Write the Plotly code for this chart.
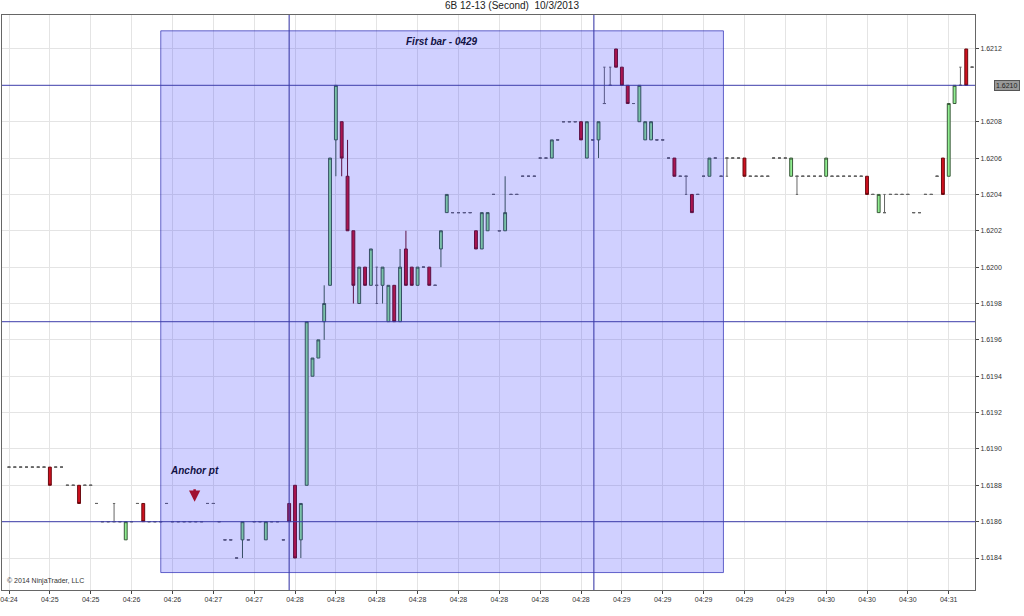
import plotly.graph_objects as go

BASE = 1.6180
PIP = 0.0001
# bars: (slot, open, high, low, close) in pips above 1.6180
rows = [
 (0,9,9,9,9),(1,9,9,9,9),(2,9,9,9,9),(3,9,9,9,9),(4,9,9,9,9),(5,9,9,9,9),(6,9,9,9,9),
 (7,9,9,8,8),(8,9,9,9,9),(9,9,9,9,9),
 (10,8,8,8,8),(11,8,8,8,8),(12,8,8,7,7),(13,8,8,8,8),(14,8,8,8,8),
 (15,7,7,7,7),(16,6,6,6,6),(17,6,6,6,6),(18,6,7,6,6),(19,6,6,6,6),(20,5,6,5,6),(21,6,6,6,6),
 (22,7,7,7,7),(23,7,7,6,6),(24,6,6,6,6),(25,6,6,6,6),(26,6,6,6,6),(27,7,7,7,7),
 (28,6,6,6,6),(29,6,6,6,6),(30,6,6,6,6),(31,6,6,6,6),(32,6,6,6,6),(33,6,6,6,6),
 (34,7,7,7,7),(35,7,7,7,7),(36,6,6,6,6),(37,5,5,5,5),(38,5,5,5,5),(39,4,4,4,4),
 (40,5,6,4,6),(41,5,5,5,5),(42,6,6,6,6),(43,6,6,6,6),(44,5,6,5,6),(45,6,6,6,6),(46,6,6,6,6),
 (47,5,5,5,5),(48,7,7,6,6),(49,8,8,4,4),(50,5,7,4,7),(51,8,17,8,17),(52,14,15,14,15),
 (53,15,16,15,16),(54,17,19,16,18),(55,19,26,19,26),(56,27,30,25,30),(57,28,28,25,26),
 (58,25,27,22,22),(59,22,22,18,19),(60,18,20,18,20),(61,20,20,19,19),(62,19,21,19,21),
 (63,19,20,18,19),(64,19,20,18,20),(65,17,19,17,19),(66,19,19,17,17),(67,17,21,17,20),
 (68,21,22,19,19),(69,20,20,19,19),(70,19,20,19,20),(71,20,20,20,20),(72,20,20,19,19),
 (73,19,19,19,19),(74,21,22,20,22),(75,23,24,23,24),(76,23,23,23,23),(77,23,23,23,23),
 (78,23,23,23,23),(79,23,23,23,23),(80,22,22,21,21),(81,21,23,21,23),(82,22,23,22,23),
 (83,24,24,24,24),(84,22,22,22,22),(85,22,25,22,23),(86,24,24,24,24),(87,24,24,24,24),
 (88,25,25,25,25),(89,25,25,25,25),(90,25,25,25,25),(91,26,26,26,26),(92,26,26,26,26),
 (93,26,27,26,27),(94,27,27,27,27),(95,28,28,28,28),(96,28,28,28,28),(97,28,28,28,28),
 (98,28,28,27,27),(99,26,28,26,28),(100,27,27,27,27),(101,27,28,26,28),(102,29,31,29,29),
 (103,30,31,30,30),(104,32,32,31,31),(105,31,31,30,30),(106,30,30,29,29),(107,29,29,29,29),
 (108,28,30,28,30),(109,27,28,27,28),(110,27,28,27,28),(111,27,27,27,27),(112,27,27,27,27),
 (113,26,26,26,26),(114,26,26,25,25),(115,25,25,25,25),(116,25,25,24,25),(117,24,24,23,23),
 (118,24,24,24,24),(119,25,25,25,25),(120,25,26,25,26),(121,26,26,26,26),(122,25,25,25,25),
 (123,26,26,25,26),(124,26,26,26,26),(125,26,26,26,26),(126,26,26,25,25),(127,25,25,25,25),
 (128,25,25,25,25),(129,25,25,25,25),(130,25,25,25,25),(131,26,26,26,26),(132,26,26,26,26),
 (133,26,26,26,26),(134,25,26,25,26),(135,25,25,24,25),(136,25,25,25,25),(137,25,25,25,25),
 (138,25,25,25,25),(139,25,25,25,25),(140,25,26,25,26),(141,25,25,25,25),(142,25,25,25,25),
 (143,25,25,25,25),(144,25,25,25,25),(145,25,25,25,25),(146,25,25,25,25),(147,25,25,24,24),
 (148,24,24,24,24),(149,23,24,23,24),(150,23,24,23,23),(151,24,24,24,24),(152,24,24,24,24),
 (153,24,24,24,24),(154,24,24,24,24),(155,23,23,23,23),(156,23,23,23,23),(157,24,24,24,24),
 (158,24,24,24,24),(159,25,25,25,25),(160,26,26,24,24),(161,25,29,25,29),(162,29,30,29,30),
 (163,30,31,30,30),(164,32,32,30,30),(165,31,31,31,31),
]
tick_slots = list(range(0, 166, 7))
tick_labels = ["04:24","04:25","04:25","04:26","04:26","04:27","04:27","04:28","04:28","04:28",
               "04:28","04:28","04:28","04:28","04:28","04:29","04:29","04:29","04:29","04:29",
               "04:30","04:30","04:30","04:31"]
price_ticks = [1.6184, 1.6186, 1.6188, 1.6190, 1.6192, 1.6194, 1.6196, 1.6198, 1.6200,
               1.6202, 1.6204, 1.6206, 1.6208, 1.6212]
last_price = 1.6210
hlines = [1.6210, 1.6197, 1.6186]
vlines = [48, 100.2]
box = dict(x0=26, x1=122.4, y0=1.61832, y1=1.6213)

def px(v): return round(BASE + v*PIP, 4)

def sel(kind):
    out = [r for r in rows if (kind == "up" and r[4] > r[1]) or (kind == "dn" and r[4] < r[1]) or (kind == "doji" and r[4] == r[1])]
    return dict(x=[r[0] for r in out], open=[px(r[1]) for r in out], high=[px(r[2]) for r in out],
                low=[px(r[3]) for r in out], close=[px(r[4]) for r in out])

fig = go.Figure()
fig.add_trace(go.Candlestick(**sel("up"), increasing=dict(fillcolor="#90EE90", line=dict(color="#3a5a3a", width=1)),
                             decreasing=dict(fillcolor="#90EE90", line=dict(color="#3a5a3a", width=1)), whiskerwidth=0))
fig.add_trace(go.Candlestick(**sel("dn"), increasing=dict(fillcolor="#d0101e", line=dict(color="#6a0a10", width=1)),
                             decreasing=dict(fillcolor="#d0101e", line=dict(color="#6a0a10", width=1)), whiskerwidth=0))
fig.add_trace(go.Candlestick(**sel("doji"), increasing=dict(fillcolor="#666", line=dict(color="#666", width=1)),
                             decreasing=dict(fillcolor="#666", line=dict(color="#666", width=1)), whiskerwidth=0.8))

fig.add_shape(type="rect", x0=box["x0"], x1=box["x1"], y0=box["y0"], y1=box["y1"], layer="above",
              fillcolor="rgba(40,40,255,0.22)", line=dict(color="rgba(40,40,180,0.7)", width=1))
for h in hlines:
    fig.add_hline(y=h, line=dict(color="rgba(60,60,170,0.8)", width=1.2), layer="above")
for v in vlines:
    fig.add_vline(x=v, line=dict(color="rgba(60,60,170,0.9)", width=1.2), layer="above")

fig.add_annotation(x=(box["x0"]+box["x1"])/2, y=1.62128, text="<b><i>First bar - 0429</i></b>", showarrow=False,
                   font=dict(size=10, color="#111144", family="Liberation Sans"), yanchor="top")
fig.add_annotation(x=31.8, y=1.61888, text="<b><i>Anchor pt</i></b>", showarrow=False,
                   font=dict(size=10, color="#111144", family="Liberation Sans"))
fig.add_annotation(x=31.8, y=1.61871, ax=0, ay=-14, text="", showarrow=True, arrowhead=2, arrowsize=0.9,
                   arrowwidth=2.5, arrowcolor="#a01030")
fig.add_annotation(xref="paper", yref="paper", x=0.003, y=0.005, text="© 2014 NinjaTrader, LLC", showarrow=False,
                   xanchor="left", yanchor="bottom", font=dict(size=7, color="#333"))
fig.add_annotation(xref="paper", x=1.0, y=last_price, text=f"{last_price:.4f}", showarrow=False, xanchor="left", xshift=19,
                   bgcolor="#999", bordercolor="#555", font=dict(size=7, color="#222"), borderpad=1)
fig.add_annotation(xref="paper", x=1.0, y=1.62155, text="<b>▶|</b>", showarrow=False, xanchor="right", xshift=-2,
                   font=dict(size=14, color="#111"))

fig.update_layout(
    width=1024, height=616, margin=dict(l=0, r=49, t=15, b=26),
    paper_bgcolor="white", plot_bgcolor="white", showlegend=False,
    title=dict(text="6B 12-13 (Second)  10/3/2013", x=0.5, y=0.997, yanchor="top", font=dict(size=10, color="#222", family="Liberation Sans")),
    xaxis=dict(range=[-1.2, 165.5], tickvals=tick_slots, ticktext=tick_labels, rangeslider=dict(visible=False),
               showgrid=True, gridcolor="#e4e4e4", ticks="outside", ticklen=3, tickfont=dict(size=7, color="#333"),
               showline=True, linecolor="#666", mirror=True, zeroline=False, ticklabeloverflow="allow"),
    yaxis=dict(range=[BASE + 2.24*PIP, BASE + 33.87*PIP], side="right", tickvals=price_ticks, tickformat=".4f",
               showgrid=True, gridcolor="#e4e4e4", ticks="outside", ticklen=3, tickfont=dict(size=7, color="#333"),
               showline=True, linecolor="#666", mirror=True, zeroline=False),
    font=dict(family="Liberation Sans"),
)
fig.write_html("out.html", config={"displayModeBar": False})
with open("out.html", encoding="utf-8") as f:
    html = f.read()
html = html.replace("<body>", "<body style=\"margin:0\">", 1)
with open("out.html", "w", encoding="utf-8") as f:
    f.write(html)
